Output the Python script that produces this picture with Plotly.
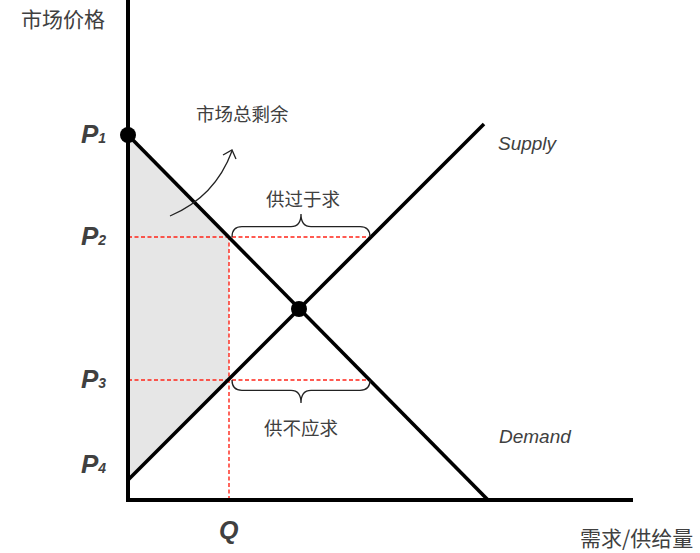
import plotly.graph_objects as go

# ---- data (economic units) ----
demand_q = [0, 36.0]
demand_p = [36.5, 0]
supply_q = [0, 35.6]
supply_p = [2.0, 37.6]
equilibrium_q = [17.1]
equilibrium_p = [19.1]
Q = 10.1
P1, P2, P3, P4 = 36.5, 26.3, 12.0, 2.0
gap_right_q = 24.2        # supply at P2 / demand at P3
axis_end_q = 50.5
price_subscripts = ["1", "2", "3", "4"]
price_values = [P1, P2, P3, P4]

TXT = "#404040"
CJK = "Noto Sans CJK SC"
LAT = "Liberation Sans"

def px2x(px):
    return (px - 128) / 10.0

def py2y(py):
    return (500 - py) / 10.0

fig = go.Figure()

# shaded total surplus
fig.add_trace(go.Scatter(
    x=[0, Q, Q, 0, 0], y=[P1, P2, P3, P4, P1], mode="lines",
    fill="toself", fillcolor="#e6e6e6", line=dict(width=0), hoverinfo="skip"))

# red dashed guides
RED = "#ff2418"
for xs, ys in [([0, gap_right_q], [P2, P2]), ([0, gap_right_q], [P3, P3]), ([Q, Q], [0, P2])]:
    fig.add_trace(go.Scatter(x=xs, y=ys, mode="lines",
                             line=dict(color=RED, width=1.4, dash="4px,2.5px"), hoverinfo="skip"))

# demand / supply
fig.add_trace(go.Scatter(x=demand_q, y=demand_p, mode="lines", line=dict(color="black", width=3.6)))
fig.add_trace(go.Scatter(x=supply_q, y=supply_p, mode="lines", line=dict(color="black", width=3.6)))

# axes
fig.add_trace(go.Scatter(x=[0, 0, axis_end_q], y=[56, 0, 0], mode="lines",
                         line=dict(color="black", width=4)))

# dots
fig.add_trace(go.Scatter(x=[0] + equilibrium_q, y=[P1] + equilibrium_p, mode="markers",
                         marker=dict(color="black", size=16)))

# braces
def brace(x0, x1, y, h):
    yf = y + h * 0.45
    yt = y + h
    xm = (x0 + x1) / 2
    r = 1.0
    return (f"M {x0},{y} Q {x0},{yf} {x0 + r},{yf} L {xm - r},{yf} "
            f"Q {xm},{yf} {xm},{yt} Q {xm},{yf} {xm + r},{yf} "
            f"L {x1 - r},{yf} Q {x1},{yf} {x1},{y}")

shapes = [
    dict(type="path", path=brace(Q + 0.3, gap_right_q, P2, 2.3), line=dict(color="#222", width=1.3)),
    dict(type="path", path=brace(Q + 0.3, gap_right_q, P3, -2.3), line=dict(color="#222", width=1.3)),
    # curved arrow
    dict(type="path",
         path=f"M {px2x(170)},{py2y(216)} Q {px2x(215)},{py2y(197)} {px2x(232)},{py2y(151)}",
         line=dict(color="#222", width=1.3)),
    dict(type="path",
         path=f"M {px2x(223)},{py2y(155)} L {px2x(232)},{py2y(150)} L {px2x(236)},{py2y(159)}",
         line=dict(color="#222", width=1.3)),
]

ann = []
for sub, v in zip(price_subscripts, price_values):
    ann.append(dict(x=px2x(93), y=v,
                    text=f"<b><i>P<span style='font-size:14px'>{sub}</span></i></b>",
                    showarrow=False, font=dict(family=LAT, size=26, color=TXT),
                    yshift=(16 if sub == "4" else 1)))
ann.append(dict(x=Q, y=py2y(530), text="<b><i>Q</i></b>", showarrow=False,
                font=dict(family=LAT, size=25, color=TXT)))
for t, px, py, sz, fam in [
    ("市场价格", 63, 18, 21, CJK),
    ("市场总剩余", 242, 113, 18.5, CJK),
    ("供过于求", 303, 198, 18.5, CJK),
    ("供不应求", 301, 427, 18.5, CJK),
    ("<i>Supply</i>", 528, 143, 19, LAT),
    ("<i>Demand</i>", 535, 436, 19, LAT),
    ("需求/供给量", 636, 537, 21, CJK),
]:
    ann.append(dict(x=px2x(px), y=py2y(py), text=t, showarrow=False,
                    font=dict(family=fam, size=sz, color=TXT)))

fig.update_layout(
    width=700, height=553, margin=dict(l=0, r=0, t=0, b=0),
    paper_bgcolor="white", plot_bgcolor="white", showlegend=False,
    xaxis=dict(range=[px2x(0), px2x(700)], visible=False, fixedrange=True),
    yaxis=dict(range=[py2y(553), py2y(0)], visible=False, fixedrange=True),
    shapes=shapes, annotations=ann,
)
fig.write_html("out.html", config={"displayModeBar": False},
               post_script="document.body.style.margin='0px';document.body.style.overflow='hidden';")
